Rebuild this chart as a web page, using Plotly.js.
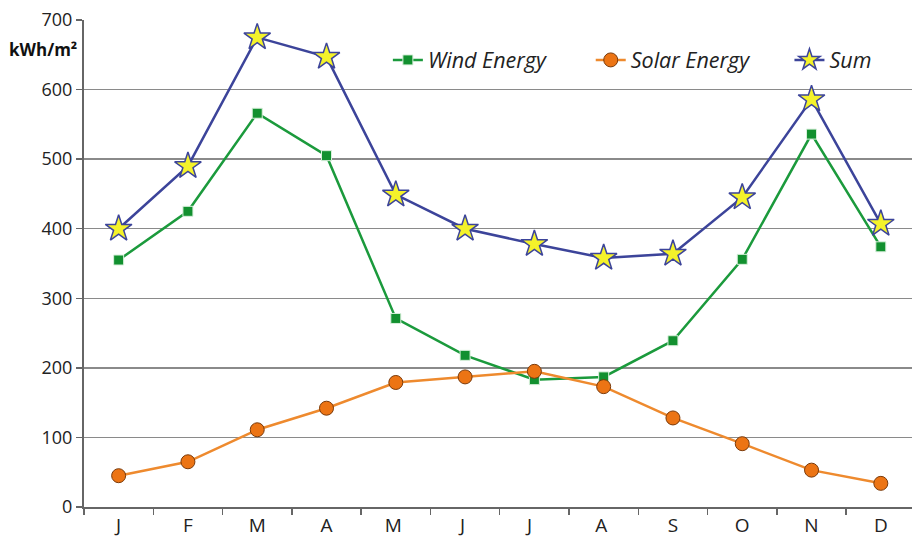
<!DOCTYPE html>
<html>
<head>
<meta charset="utf-8">
<script src="https://cdn.plot.ly/plotly-3.0.1.min.js"></script>
<style>html,body{margin:0;padding:0;background:#fff}#chart{width:912px;height:538px}</style>
</head>
<body>
<div id="chart"></div>
<script>
var months = ["J","F","M","A","M ","J ","J  ","A ","S","O","N","D"];
var wind  = [355, 425, 566, 505, 271, 218, 183, 187, 239, 356, 536, 374];
var solar = [45, 65, 111, 142, 179, 187, 195, 173, 128, 91, 53, 34];
var sum   = [400, 490, 675, 647, 449, 400, 378, 358, 364, 445, 586, 407];
var yTicks = [0, 100, 200, 300, 400, 500, 600, 700];

var traces = [
  {x: months, y: wind, name: "Wind Energy", type: "scatter", mode: "lines+markers", legend: "legend",
   line: {color: "#1b9a3c", width: 2.5},
   marker: {symbol: "square", size: 10, color: "#12902f", line: {color: "#d9f0dc", width: 1}}},
  {x: months, y: solar, name: "Solar Energy", type: "scatter", mode: "lines+markers", legend: "legend2",
   line: {color: "#ee8a2e", width: 2.5},
   marker: {symbol: "circle", size: 14, color: "#ec7414", line: {color: "#7a3a0a", width: 1}}},
  {x: months, y: sum, name: "Sum", type: "scatter", mode: "lines+markers", legend: "legend3",
   line: {color: "#3c449a", width: 2.5},
   marker: {symbol: "star", size: 20, color: "#f4f22a", line: {color: "#3c449a", width: 1.5}}}
];

function leg(x) {
  return {orientation: "h", x: x, y: 0.918, xanchor: "left", yanchor: "middle",
          font: {size: 21.5, style: "italic", color: "#222"}, bgcolor: "rgba(0,0,0,0)"};
}

var layout = {
  width: 912, height: 538,
  margin: {l: 84, r: 0, t: 20, b: 31},
  paper_bgcolor: "#fff", plot_bgcolor: "#fff",
  font: {family: "Open Sans, DejaVu Sans, sans-serif", color: "#2a2a2a"},
  showlegend: true,
  legend: leg(0.367),
  legend2: leg(0.612),
  legend3: leg(0.852),
  xaxis: {type: "category", range: [-0.5, 11.45], tickson: "boundaries",
          ticks: "outside", ticklen: 6, tickcolor: "#666", tickwidth: 1.5,
          showline: true, linecolor: "#666", linewidth: 2, showgrid: false,
          tickfont: {size: 19, color: "#222"}, fixedrange: true},
  yaxis: {range: [0, 700], tickvals: yTicks, ticks: "outside", ticklen: 6,
          tickcolor: "#666", tickwidth: 1.5, showline: true, linecolor: "#666", linewidth: 2,
          showgrid: true, gridcolor: "#8a8a8a", gridwidth: 1.3, zeroline: false,
          tickfont: {size: 18, color: "#222"}},
  annotations: [
    {xref: "paper", yref: "paper", x: -0.006, y: 0.94, xanchor: "right", yanchor: "middle",
     text: "<b>kWh/m²</b>", showarrow: false, font: {size: 17, color: "#111"}}
  ]
};

Plotly.newPlot("chart", traces, layout, {displayModeBar: false, staticPlot: true});
</script>
</body>
</html>
